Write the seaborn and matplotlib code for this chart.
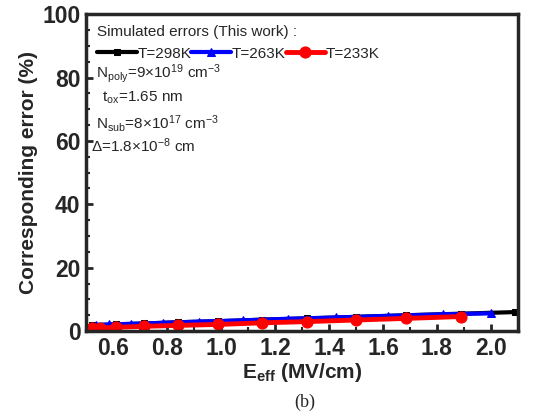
import numpy as np
import pandas as pd
import matplotlib
matplotlib.use("Agg")
import matplotlib.pyplot as plt
from matplotlib.ticker import MultipleLocator
import seaborn as sns

# ---- data ----
x_298 = [0.52, 0.61, 0.715, 0.84, 0.99, 1.15, 1.32, 1.50, 1.685, 1.89, 2.09]
y_298 = [1.8, 2.1, 2.4, 2.8, 3.1, 3.6, 4.0, 4.5, 5.0, 5.5, 6.0]
x_263 = [0.537, 0.585, 0.667, 0.785, 0.919, 1.081, 1.248, 1.426, 1.619, 1.822, 2.0]
y_263 = [2.0, 2.1, 2.3, 2.6, 3.0, 3.4, 3.9, 4.3, 4.8, 5.3, 5.6]
x_233 = [0.52, 0.55, 0.61, 0.715, 0.84, 0.99, 1.15, 1.32, 1.50, 1.685, 1.89]
y_233 = [0.9, 1.0, 1.2, 1.5, 1.8, 2.1, 2.6, 3.0, 3.5, 4.0, 4.6]
labels = ["T=298K", "T=263K", "T=233K"]
x_ticks = [0.6, 0.8, 1.0, 1.2, 1.4, 1.6, 1.8, 2.0]
y_ticks = [0, 20, 40, 60, 80, 100]

sns.set_style("ticks")
plt.rcParams["font.family"] = ["Liberation Sans", "DejaVu Sans"]
plt.rcParams["mathtext.fontset"] = "custom"
plt.rcParams["mathtext.rm"] = "Liberation Sans"
plt.rcParams["mathtext.it"] = "Liberation Sans:italic"
plt.rcParams["mathtext.bf"] = "Liberation Sans:bold"

fig = plt.figure(figsize=(5.35, 4.17), dpi=100)
ax = fig.add_axes([0.161, 0.206, 0.807, 0.760])

series = [
    (x_298, y_298, labels[0], "black", "s", 5, 3.0),
    (x_263, y_263, labels[1], "#0000ff", "^", 6, 3.0),
    (x_233, y_233, labels[2], "#ff0000", "o", 8, 3.5),
]
for xs, ys, lab, col, mk, ms, lw in series:
    df = pd.DataFrame({"x": xs, "y": ys})
    sns.lineplot(data=df, x="x", y="y", ax=ax, color=col, marker=mk,
                 markersize=ms, linewidth=lw, label=lab,
                 markeredgecolor=col, markerfacecolor=col)

ax.set_xlim(0.5, 2.1)
ax.set_ylim(0, 100)
ax.set_xticks(x_ticks)
ax.set_xticklabels([f"{v:.1f}" for v in x_ticks])
ax.set_yticks(y_ticks)
ax.xaxis.set_minor_locator(MultipleLocator(0.1))
ax.yaxis.set_minor_locator(MultipleLocator(5))
ax.tick_params(which="major", direction="in", length=5, width=2,
               labelsize=16.5, pad=4)
ax.tick_params(which="minor", direction="in", length=3, width=1.5)
for lbl in ax.get_xticklabels() + ax.get_yticklabels():
    lbl.set_fontweight("bold")
for sp in ax.spines.values():
    sp.set_linewidth(2.5)
    sp.set_visible(True)

ax.set_xlabel(r"E$_{\mathbf{eff}}$ (MV/cm)", fontsize=15, fontweight="bold", labelpad=1)
ax.set_ylabel("Corresponding error (%)", fontsize=15, fontweight="bold", labelpad=3)

leg = ax.legend(loc="upper left", ncol=3, frameon=False, fontsize=11,
                title="Simulated errors (This work) :", title_fontsize=11,
                handlelength=2.6, handletextpad=0.05, columnspacing=0.0,
                borderaxespad=0.3, bbox_to_anchor=(0.0, 1.0))
leg._legend_box.align = "left"

fs = 11
ax.text(0.022, 0.80, r"N$_{\mathrm{poly}}$=9$\times$10$^{19}$ cm$^{-3}$", transform=ax.transAxes, fontsize=fs)
ax.text(0.028, 0.725, r" t$_{\mathrm{ox}}$=1.65 nm", transform=ax.transAxes, fontsize=fs)
ax.text(0.022, 0.64, r"N$_{\mathrm{sub}}$=8$\times$10$^{17}$ cm$^{-3}$", transform=ax.transAxes, fontsize=fs)
ax.text(0.012, 0.565, r"$\Delta$=1.8$\times$10$^{-8}$ cm", transform=ax.transAxes, fontsize=fs)

fig.text(0.57, 0.025, "(b)", fontsize=13, family="Liberation Serif", ha="center")

fig.savefig("out.png", dpi=100)
